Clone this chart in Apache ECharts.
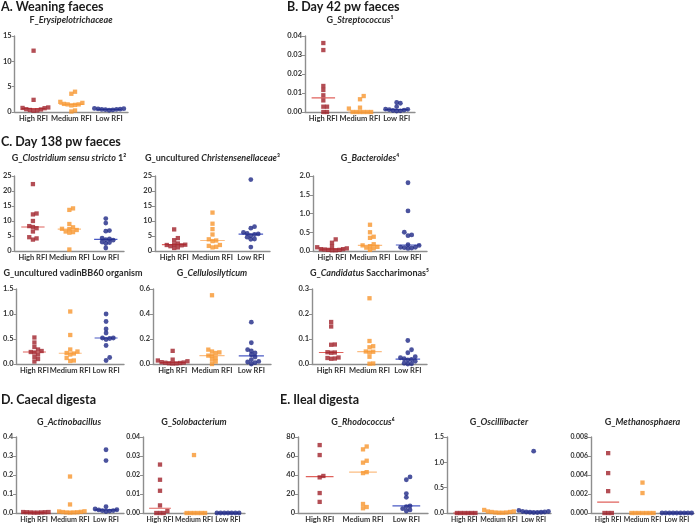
<!DOCTYPE html>
<html><head><meta charset="utf-8">
<script src="https://cdn.jsdelivr.net/npm/echarts@6/dist/echarts.min.js"></script>
<style>html,body{margin:0;padding:0;background:#fff}#c{width:696px;height:525px}</style>
</head><body><div id="c"></div><script>
// ---------- data ----------
const groups = ['High RFI', 'Medium RFI', 'Low RFI'];

const A_high = [12.1, 2.4, 0.9, 0.75, 0.55, 0.4, 0.25, 0.3, 0.5, 0.8];
const A_med  = [4.0, 3.6, 2.0, 1.8, 1.6, 1.5, 1.4, 1.3, 1.5, 0.3, 0.1];
const A_low  = [0.7, 0.6, 0.55, 0.5, 0.45, 0.4, 0.5, 0.65, 0.35];

const B_high = [0.0363, 0.0326, 0.0137, 0.0116, 0.0088, 0.0061, 0.0028, 0.0028, 0.0, 0.0];
const B_med  = [0.0084, 0.0067, 0.0023, 0.0018, 0, 0, 0, 0, 0, 0];
const B_low  = [0.005, 0.0046, 0.0028, 0.0014, 0.001, 0.0006, 0.0005, 0.0008, 0.0012, 0.0015];

const C1_high = [22.3, 12.5, 12.2, 10.0, 8.3, 8.0, 7.6, 6.5, 4.6, 4.2, 3.8];
const C1_med  = [14.2, 13.7, 9.0, 7.9, 7.4, 7.3, 7.0, 6.3, 6.1, 6.5, 0.5];
const C1_low  = [10.8, 9.3, 6.8, 6.6, 4.3, 4.0, 3.8, 3.6, 3.0, 2.5, 2.8, 1.0];

const C2_high = [7.2, 4.3, 3.6, 2.5, 2.2, 2.1, 2.0, 1.9, 1.6, 1.2, 1.0];
const C2_med  = [12.8, 9.1, 7.3, 5.5, 3.9, 3.5, 3.3, 2.0, 1.7, 1.4, 1.2];
const C2_low  = [23.8, 8.1, 7.6, 6.2, 5.9, 5.7, 5.5, 5.1, 4.6, 4.0, 3.9, 1.3];

const C3_high = [0.31, 0.22, 0.12, 0.10, 0.07, 0.05, 0.04, 0.03, 0.02, 0.02, 0.03, 0.05];
const C3_med  = [0.70, 0.50, 0.38, 0.35, 0.18, 0.15, 0.13, 0.11, 0.09, 0.07, 0.03];
const C3_low  = [1.82, 1.07, 0.50, 0.43, 0.41, 0.17, 0.15, 0.10, 0.09, 0.08, 0.07, 0.10];

const C4_high = [0.53, 0.43, 0.34, 0.29, 0.26, 0.24, 0.23, 0.19, 0.14, 0.10, 0.05];
const C4_med  = [1.05, 0.58, 0.29, 0.25, 0.22, 0.21, 0.19, 0.12, 0.07, 0.06];
const C4_low  = [1.0, 0.85, 0.70, 0.62, 0.52, 0.52, 0.51, 0.49, 0.37, 0.13, 0.07];

const C5_high = [0.105, 0.035, 0.028, 0.022, 0.015, 0.012, 0.01, 0.008, 0.006, 0.005, 0.004];
const C5_med  = [0.55, 0.115, 0.10, 0.093, 0.088, 0.067, 0.065, 0.048, 0.035, 0.019, 0.0];
const C5_low  = [0.335, 0.17, 0.115, 0.104, 0.088, 0.074, 0.056, 0.035, 0.021, 0.016, 0.011, 0.0];

const C6_high = [0.168, 0.15, 0.078, 0.077, 0.047, 0.046, 0.045, 0.026, 0.024, 0.022, 0.021];
const C6_med  = [0.263, 0.092, 0.071, 0.067, 0.05, 0.049, 0.046, 0.029, 0.002, 0.001];
const C6_low  = [0.094, 0.057, 0.045, 0.029, 0.025, 0.021, 0.018, 0.016, 0.011, 0.003, 0.001, 0.0];

const D1_high = [0.005, 0.004, 0.003, 0.003, 0.002, 0.002, 0.004, 0.005];
const D1_med  = [0.192, 0.045, 0.008, 0.005, 0.003, 0.002, 0.003, 0.004, 0.006, 0.009];
const D1_low  = [0.333, 0.276, 0.033, 0.021, 0.017, 0.013, 0.010, 0.008, 0.012, 0.016];

const D2_high = [0.0255, 0.0175, 0.0117, 0.004, 0.001, 0, 0, 0];
const D2_med  = [0.0305, 0, 0, 0, 0, 0, 0];
const D2_low  = [0, 0, 0, 0, 0, 0, 0];

const E1_high = [71.5, 61, 39, 37.5, 21, 11.7];
const E1_med  = [70, 67, 55, 53, 43, 42, 9.5, 6.3, 5];
const E1_low  = [38, 35, 20.5, 16.5, 7.4, 6.7, 4.6, 3.2, 2.1];

const E2_high = [0, 0, 0, 0, 0, 0];
const E2_med  = [0.06, 0.03, 0.02, 0.01, 0.005, 0.005, 0.01, 0.02, 0.03];
const E2_low  = [1.22, 0.05, 0.03, 0.02, 0.015, 0.01, 0.01, 0.015, 0.02, 0.03];

const E3_high = [0.0063, 0.0042, 0.0023, 0, 0, 0];
const E3_med  = [0.0032, 0.0021, 0, 0, 0, 0, 0, 0, 0];
const E3_low  = [0, 0, 0, 0, 0, 0, 0, 0, 0];

// y-axis settings: [max, interval, decimals]
const yAxes = {
  A: [15, 5, 0], B: [0.04, 0.01, 2], C1: [25, 5, 0], C2: [25, 5, 0], C3: [2, 0.5, 1],
  C4: [1.5, 0.5, 1], C5: [0.6, 0.2, 1], C6: [0.3, 0.1, 1], D1: [0.4, 0.1, 1],
  D2: [0.04, 0.01, 2], E1: [80, 20, 0], E2: [1.5, 0.5, 1], E3: [0.008, 0.002, 3]
};

const sectionTitles = [
  ['A. Weaning faeces', 1, 7], ['B. Day 42 pw faeces', 287, 7],
  ['C. Day 138 pw faeces', 1, 142], ['D. Caecal digesta', 1, 400], ['E. Ileal digesta', 280, 400]
];

const subtitles = {
  A: 'F_{i|Erysipelotrichaceae}', B: 'G_{i|Streptococcus}¹',
  C1: 'G_{i|Clostridium sensu stricto} 1²', C2: 'G_uncultured {i|Christensenellaceae}³',
  C3: 'G_{i|Bacteroides}⁴', C4: 'G_uncultured vadinBB60 organism',
  C5: 'G_{i|Cellulosilyticum}', C6: 'G_{i|Candidatus} Saccharimonas⁵',
  D1: 'G_{i|Actinobacillus}', D2: 'G_{i|Solobacterium}', E1: 'G_{i|Rhodococcus}⁶',
  E2: 'G_{i|Oscillibacter}', E3: 'G_{i|Methanosphaera}'
};

// ---------- layout ----------
const layout = {
  A:  {left: 14,  top: 36,  width: 114, height: 76},
  B:  {left: 305, top: 36,  width: 110, height: 76},
  C1: {left: 14,  top: 176, width: 110, height: 75},
  C2: {left: 155, top: 176, width: 115, height: 75},
  C3: {left: 313, top: 176, width: 114, height: 75},
  C4: {left: 14,  top: 289, width: 110, height: 75},
  C5: {left: 153, top: 289, width: 118, height: 75},
  C6: {left: 312, top: 289, width: 115, height: 75},
  D1: {left: 14,  top: 437, width: 110, height: 76},
  D2: {left: 143, top: 437, width: 102, height: 76},
  E1: {left: 298, top: 437, width: 130, height: 76},
  E2: {left: 447, top: 437, width: 104, height: 76},
  E3: {left: 591, top: 437, width: 103, height: 76}
};
const subShift = {C4: 4};
const labelSize = {A: 7.5, B: 7.5, C1: 7.5, C2: 7.5, C3: 7.5, C4: 7.5, C5: 7.5, C6: 7.5,
  D1: 7.2, D2: 7, E1: 7.5, E2: 6.9, E3: 6.9};
const dataSets = {
  A: [A_high, A_med, A_low], B: [B_high, B_med, B_low],
  C1: [C1_high, C1_med, C1_low], C2: [C2_high, C2_med, C2_low], C3: [C3_high, C3_med, C3_low],
  C4: [C4_high, C4_med, C4_low], C5: [C5_high, C5_med, C5_low], C6: [C6_high, C6_med, C6_low],
  D1: [D1_high, D1_med, D1_low], D2: [D2_high, D2_med, D2_low],
  E1: [E1_high, E1_med, E1_low], E2: [E2_high, E2_med, E2_low], E3: [E3_high, E3_med, E3_low]
};

const FONT = 'Lato, "Open Sans", sans-serif';
const dotColors = ['#a0222a', '#f8962e', '#1e2886'];
const lineColors = ['#e0625c', '#fbbd82', '#4a5ac4'];
const symbols = ['rect', 'rect', 'circle'];
const AXIS = '#8e8e8e';
const DOT = 4.3;      // marker size
const SPREAD = 3.7;   // horizontal spacing of points sharing a level

function median(arr) {
  const s = arr.slice().sort((a, b) => a - b);
  const n = s.length;
  return n % 2 ? s[(n - 1) / 2] : (s[n / 2 - 1] + s[n / 2]) / 2;
}

// beeswarm: horizontal offsets (in category units) so points do not pile up
function swarm(vals, max, H, catW, d) {
  const placed = [];
  const order = vals.map((v, i) => i).sort((a, b) => vals[a] - vals[b]);
  const offs = new Array(vals.length);
  for (const i of order) {
    const py = vals[i] / max * H;
    let x = 0;
    for (let s = 0; s < 400; s++) {
      const k = Math.ceil(s / 2);
      const cand = s === 0 ? 0 : (s % 2 ? k * d : -k * d);
      if (placed.every(p => Math.hypot(p.px - cand, p.py - py) >= d * 0.97)) { x = cand; break; }
    }
    placed.push({px: x, py});
    offs[i] = x / catW;
  }
  return offs;
}

const grids = [], xAxes = [], yAxesOpt = [], series = [], graphics = [];
Object.keys(layout).forEach((key, p) => {
  const g = layout[key];
  const [ymax, yint, dec] = yAxes[key];
  const fs = labelSize[key];
  grids.push(Object.assign({}, g));
  xAxes.push({
    type: 'category', gridIndex: p, data: groups, boundaryGap: true,
    axisLine: {show: true, onZero: false, lineStyle: {color: AXIS, width: 1.4}},
    axisTick: {show: false},
    axisLabel: {interval: 0, fontSize: fs, fontWeight: 'bold', color: '#333', margin: 3, fontFamily: FONT}
  });
  xAxes.push({type: 'value', gridIndex: p, min: -0.5, max: 2.5, show: false});
  yAxesOpt.push({
    type: 'value', gridIndex: p, min: 0, max: ymax, interval: yint,
    axisLine: {show: true, onZero: false, lineStyle: {color: AXIS, width: 1.4}},
    axisTick: {show: true, length: 3, lineStyle: {color: AXIS, width: 1}},
    splitLine: {show: false},
    axisLabel: {fontSize: fs, fontWeight: 'bold', color: '#333', margin: 3, fontFamily: FONT,
      formatter: v => v.toFixed(dec)}
  });
  const catW = g.width / 3;
  dataSets[key].forEach((vals, gi) => {
    const offs = swarm(vals, ymax, g.height, catW, SPREAD);
    series.push({
      type: 'scatter', xAxisIndex: 2 * p + 1, yAxisIndex: p, clip: false, silent: true, z: 3,
      symbol: symbols[gi], symbolSize: gi === 2 ? DOT + 0.5 : DOT,
      itemStyle: {color: dotColors[gi]},
      data: vals.map((v, i) => [gi + offs[i], v])
    });
    const m = median(vals);
    series.push({
      type: 'line', xAxisIndex: 2 * p + 1, yAxisIndex: p, clip: false, silent: true, z: 2,
      symbol: 'none', lineStyle: {color: lineColors[gi], width: 1.2},
      data: [[gi - 0.32, m], [gi + 0.32, m]]
    });
  });
  const subY = {36: 20, 176: 158, 289: 273, 437: 422}[g.top];
  graphics.push({
    type: 'text', x: g.left + g.width / 2 + (subShift[key] || 0), y: subY, silent: true,
    style: {
      text: subtitles[key], fill: '#2a2a2a', fontSize: 9, fontWeight: 'bold', fontFamily: FONT,
      align: 'center', textAlign: 'center', verticalAlign: 'middle', textVerticalAlign: 'middle',
      rich: {i: {fontStyle: 'italic', fontWeight: 'bold', fontSize: 9, fontFamily: FONT, fill: '#2a2a2a'}}
    }
  });
});
sectionTitles.forEach(([t, x, y]) => {
  graphics.push({
    type: 'text', x, y, silent: true,
    style: {text: t, fill: '#1a1a1a', fontSize: 12.5, fontWeight: 'bold', fontFamily: FONT,
      verticalAlign: 'middle', textVerticalAlign: 'middle'}
  });
});

const chart = echarts.init(document.getElementById('c'), null, {renderer: 'canvas'});
chart.setOption({
  animation: false, backgroundColor: '#fff',
  grid: grids, xAxis: xAxes, yAxis: yAxesOpt, series, graphic: graphics
});
</script></body></html>
